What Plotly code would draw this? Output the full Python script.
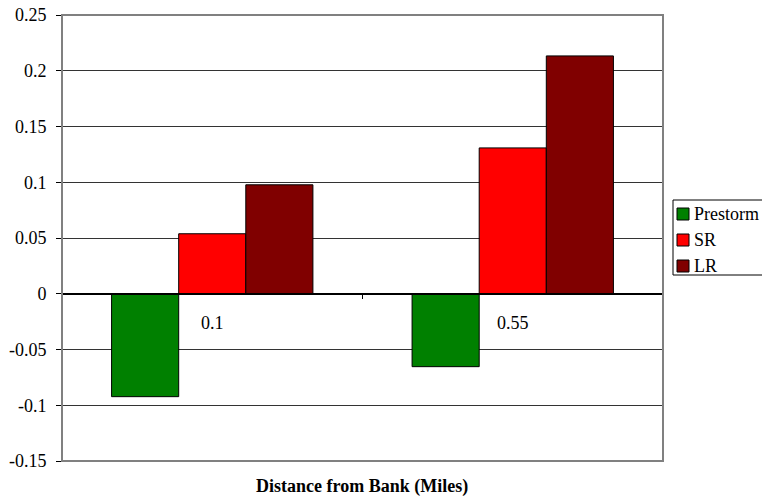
import plotly.graph_objects as go

# Distance from bank (miles) and change per period
distances = ["0.1", "0.55"]
series_names = ["Prestorm", "SR", "LR"]
prestorm = [-0.0923, -0.0654]
sr = [0.0538, 0.1308]
lr = [0.0977, 0.2133]
y_ticks = [-0.15, -0.1, -0.05, 0, 0.05, 0.1, 0.15, 0.2, 0.25]
y_tick_text = ["-0.15", "-0.1", "-0.05", "0", "0.05", "0.1", "0.15", "0.2", "0.25"]
colors = ["#008000", "#FF0000", "#800000"]

serif = "Liberation Serif"
W, H = 762, 499
ML, MR, MT, MB = 62, 99, 15, 38
plot_w, plot_h = W - ML - MR, H - MT - MB


def px_x(px):
    # pixel column -> paper coordinate
    return (px - ML) / plot_w


def px_y(py):
    # pixel row -> paper coordinate
    return (H - MB - py) / plot_h


fig = go.Figure()
for name, vals, col in zip(series_names, [prestorm, sr, lr], colors):
    fig.add_trace(go.Bar(
        x=distances, y=vals, name=name, showlegend=False,
        marker=dict(color=col, line=dict(color="#000000", width=1)),
    ))

y_min, y_max = -0.15, 0.25
zero_pos = (0 - y_min) / (y_max - y_min)

# Legend box with swatches and labels, placed right of the plot
shapes = [
    dict(type="rect", xref="paper", yref="paper", x0=0, x1=1, y0=0, y1=1,
         line=dict(color="#808080", width=2), layer="above"),
    dict(type="rect", xref="paper", yref="paper",
         x0=px_x(673), x1=px_x(790), y0=px_y(275), y1=px_y(200),
         line=dict(color="black", width=1), fillcolor="white"),
]
annotations = [dict(
    text="<b>Distance from Bank (Miles)</b>", xref="paper", yref="paper",
    x=px_x(362), y=px_y(498), xanchor="center", yanchor="bottom", showarrow=False,
    borderpad=0,
    font=dict(family=serif, size=18, color="black"),
)]
row_centers = [214, 240, 266]
for name, col, cy in zip(series_names, colors, row_centers):
    shapes.append(dict(
        type="rect", xref="paper", yref="paper",
        x0=px_x(677), x1=px_x(689), y0=px_y(cy + 6), y1=px_y(cy - 6),
        line=dict(color="black", width=1), fillcolor=col,
    ))
    annotations.append(dict(
        text=name, xref="paper", yref="paper", x=px_x(692), y=px_y(cy),
        xanchor="left", yanchor="middle", showarrow=False,
        font=dict(family=serif, size=18, color="black"),
    ))

fig.update_layout(
    width=W, height=H,
    margin=dict(l=ML, r=MR, t=MT, b=MB, autoexpand=False),
    paper_bgcolor="white", plot_bgcolor="white",
    barmode="group", bargap=0.33, bargroupgap=0,
    font=dict(family=serif, size=18, color="black"),
    showlegend=False,
    xaxis=dict(
        type="category", anchor="free", position=zero_pos,
        showline=True, linecolor="black", linewidth=2,
        ticks="outside", tickson="boundaries", ticklen=4, tickcolor="black",
        showgrid=False, ticklabelstandoff=13,
        tickfont=dict(family=serif, size=18, color="black"),
    ),
    yaxis=dict(
        range=[y_min, y_max], tickvals=y_ticks, ticktext=y_tick_text,
        showline=True, linecolor="black", linewidth=1,
        ticks="outside", ticklen=5, tickcolor="black",
        showgrid=True, gridcolor="#333333", gridwidth=1,
        zeroline=False, ticklabelstandoff=6,
        tickfont=dict(family=serif, size=18, color="black"),
    ),
    shapes=shapes,
    annotations=annotations,
)

fig.write_html("out.html")
